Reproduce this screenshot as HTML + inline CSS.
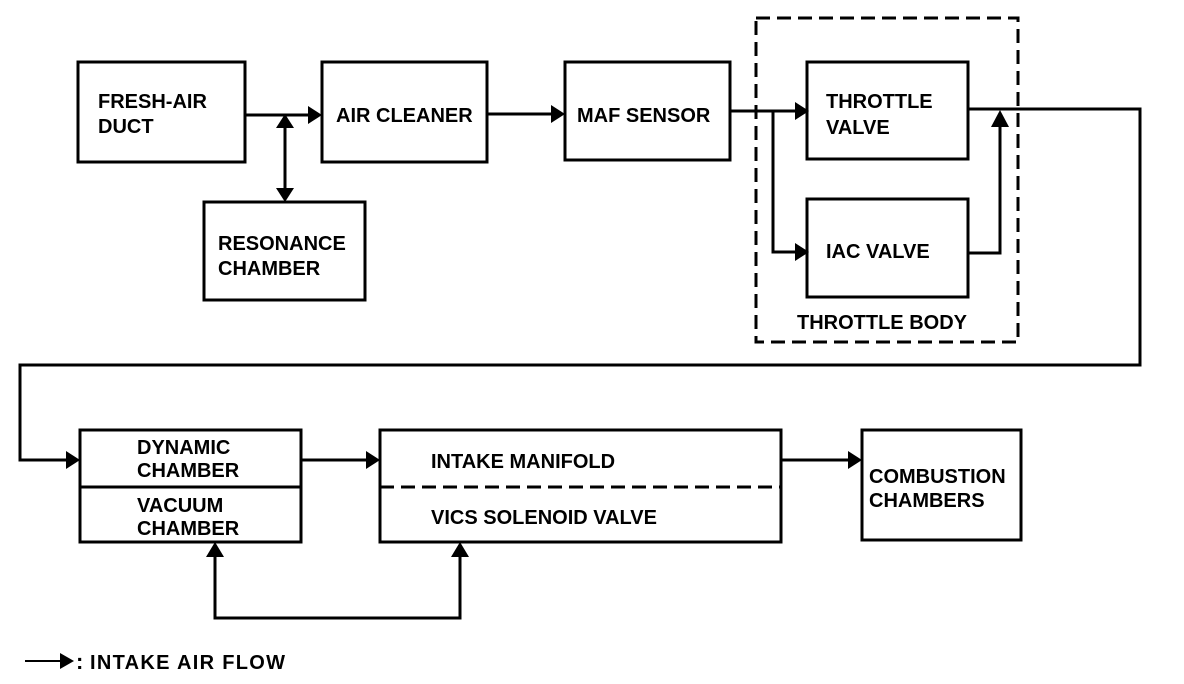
<!DOCTYPE html>
<html><head><style>body{margin:0;background:#fff}svg{display:block}text{font-family:"Liberation Sans",Arial,sans-serif;font-weight:bold;font-size:20px;fill:#000}</style></head>
<body>
<svg width="1184" height="684" viewBox="0 0 1184 684" xmlns="http://www.w3.org/2000/svg">
<g fill="none" stroke="#000" stroke-width="3">
<rect x="78" y="62" width="167" height="100"/>
<rect x="322" y="62" width="165" height="100"/>
<rect x="565" y="62" width="165" height="98"/>
<rect x="807" y="62" width="161" height="97"/>
<rect x="807" y="199" width="161" height="98"/>
<rect x="204" y="202" width="161" height="98"/>
<rect x="756" y="18" width="262" height="324" stroke-dasharray="14,7"/>
<rect x="80" y="430" width="221" height="112"/>
<line x1="80" y1="487" x2="301" y2="487"/>
<rect x="380" y="430" width="401" height="112"/>
<line x1="380" y1="487" x2="781" y2="487" stroke-dasharray="14,7"/>
<rect x="862" y="430" width="159" height="110"/>
<polyline points="245,115 310,115"/>
<line x1="285" y1="125" x2="285" y2="190"/>
<polyline points="487,114 552,114"/>
<polyline points="730,111 795,111"/>
<polyline points="773,111 773,252 795,252"/>
<polyline points="968,253 1000,253 1000,126"/>
<polyline points="968,109 1140,109 1140,365 20,365 20,460 68,460"/>
<polyline points="301,460 368,460"/>
<polyline points="781,460 850,460"/>
<polyline points="215,555 215,618 460,618 460,555"/>
<line x1="25" y1="661" x2="60" y2="661" stroke-width="2"/>
</g>
<g fill="#000">
<polygon points="322,115 308,106 308,124"/>
<polygon points="285,114 276,128 294,128"/>
<polygon points="285,202 276,188 294,188"/>
<polygon points="565,114 551,105 551,123"/>
<polygon points="809,111 795,102 795,120"/>
<polygon points="809,252 795,243 795,261"/>
<polygon points="1000,110 991,127 1009,127"/>
<polygon points="80,460 66,451 66,469"/>
<polygon points="380,460 366,451 366,469"/>
<polygon points="862,460 848,451 848,469"/>
<polygon points="215,542 206,557 224,557"/>
<polygon points="460,542 451,557 469,557"/>
<polygon points="74,661 60,653 60,669"/>
</g>
<text x="98" y="108">FRESH-AIR</text><text x="98" y="133">DUCT</text>
<text x="336" y="122">AIR CLEANER</text>
<text x="577" y="122">MAF SENSOR</text>
<text x="826" y="108">THROTTLE</text><text x="826" y="134">VALVE</text>
<text x="826" y="258">IAC VALVE</text>
<text x="218" y="250">RESONANCE</text><text x="218" y="275">CHAMBER</text>
<text x="797" y="329">THROTTLE BODY</text>
<text x="137" y="454">DYNAMIC</text><text x="137" y="477">CHAMBER</text>
<text x="137" y="512">VACUUM</text><text x="137" y="535">CHAMBER</text>
<text x="431" y="468">INTAKE MANIFOLD</text>
<text x="431" y="524">VICS SOLENOID VALVE</text>
<text x="869" y="483">COMBUSTION</text><text x="869" y="507">CHAMBERS</text>
<text x="76" y="669" style="font-size:22px">:</text>
<text x="90" y="669" textLength="195">INTAKE AIR FLOW</text>
</svg>
</body></html>
